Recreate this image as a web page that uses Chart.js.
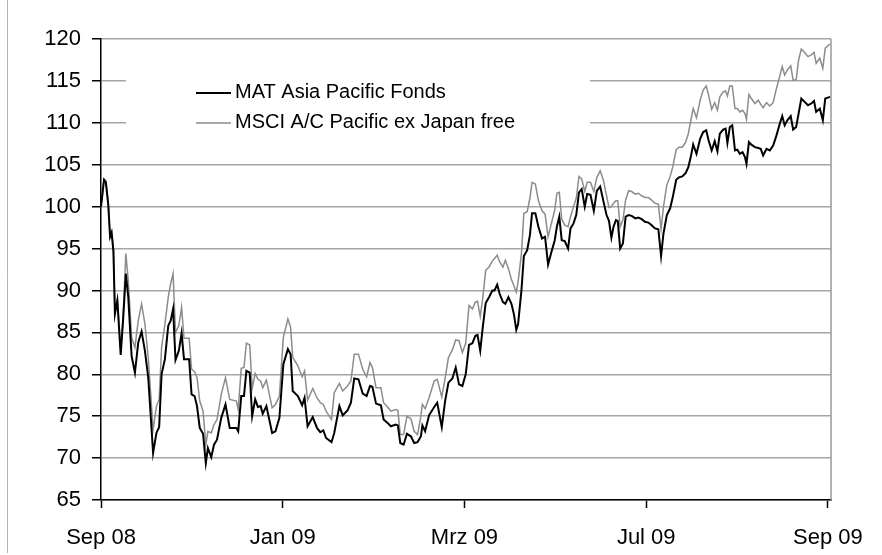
<!DOCTYPE html>
<html>
<head>
<meta charset="utf-8">
<script src="https://cdn.jsdelivr.net/npm/chart.js@4.4.1/dist/chart.umd.min.js"></script>
<style>
html,body{margin:0;padding:0;background:#fff;}
#wrap{position:relative;width:882px;height:555px;}
</style>
</head>
<body>
<div id="wrap"><canvas id="c" width="882" height="555"></canvas></div>
<script>
// Tick labels on the category-like x axis (equally spaced)
const tickPositions = [0, 60, 120, 180, 240];
const tickLabels = ['Sep 08', 'Jan 09', 'Mrz 09', 'Jul 09', 'Sep 09'];
const seriesNames = ['MAT Asia Pacific Fonds', 'MSCI A/C Pacific ex Japan free'];

// Observation positions along the x axis
const pos = [
0, 1.0, 1.6, 2.4, 3.0, 3.5, 4.1, 4.6, 5.4, 6.5,
7.3, 8.2, 9.0, 10.1, 11.2, 12.3, 13.4, 14.5, 15.6, 17.2,
18.3, 19.2, 20.0, 21.1, 22.2, 23.0, 23.8, 24.6, 25.7, 26.6,
27.4, 29.1, 29.9, 30.9, 31.7, 32.6, 33.7, 34.6, 35.3, 36.4,
37.3, 38.3, 39.7, 41.1, 42.5, 44.7, 45.3, 46.3, 47.2, 48.0,
49.1, 49.9, 50.9, 51.8, 52.7, 53.4, 54.6, 56.5, 57.6, 58.9,
60.2, 61.7, 62.6, 63.3, 65.0, 66.4, 67.2, 68.2, 69.9, 71.3,
72.4, 73.4, 74.3, 76.1, 77.0, 78.7, 79.8, 81.4, 82.5, 83.6,
85.0, 86.4, 87.7, 88.8, 89.6, 90.8, 92.4, 93.3, 94.6, 95.7,
97.3, 98.0, 98.8, 99.9, 101.0, 102.3, 103.4, 104.5, 105.6, 106.1,
107.0, 108.3, 110.0, 111.0, 112.5, 113.6, 114.7, 116.0, 117.1, 118.2,
119.3, 120.4, 121.5, 122.6, 123.6, 124.3, 125.2, 126.0, 127.0, 128.1,
129.2, 129.9, 130.8, 131.6, 132.7, 133.5, 134.5, 135.5, 136.3, 137.1,
137.7, 138.8, 139.6, 140.7, 141.6, 142.3, 143.4, 144.4, 145.6, 146.6,
147.6, 148.7, 149.8, 150.5, 151.3, 152.1, 153.1, 154.2, 155.0, 156.0,
156.9, 157.8, 158.7, 159.7, 160.5, 161.6, 162.7, 163.7, 164.8, 165.9,
166.9, 167.7, 168.5, 169.2, 170.0, 170.6, 171.4, 172.3, 173.2, 174.2,
175.2, 176.4, 177.4, 178.5, 179.6, 180.7, 181.7, 182.9, 184.0, 184.9,
185.7, 186.8, 187.9, 188.8, 189.9, 190.8, 191.9, 193.0, 193.9, 194.8,
195.5, 196.6, 197.8, 198.8, 199.8, 200.6, 201.6, 202.6, 203.5, 204.3,
205.4, 206.2, 206.8, 207.6, 208.4, 209.3, 210.1, 210.9, 211.8, 212.6,
213.1, 213.9, 214.7, 215.9, 217.0, 217.8, 218.6, 219.7, 220.8, 221.9,
223.0, 224.1, 224.9, 225.7, 226.6, 227.7, 228.5, 229.5, 230.3, 231.2,
232.3, 233.4, 234.5, 235.4, 236.1, 237.3, 238.3, 239.1, 240.7
];

// MAT Asia Pacific Fonds (indexed)
const matValues = [
100.0, 103.2, 102.9, 100.2, 96.4, 96.9, 94.7, 87.2, 88.8, 82.3,
86.5, 92.0, 89.2, 82.2, 80.2, 83.8, 85.1, 82.8, 79.6, 70.6,
73.0, 73.7, 80.0, 81.8, 85.8, 86.4, 87.8, 81.7, 82.8, 84.9,
81.8, 81.8, 77.6, 77.4, 76.2, 73.6, 72.9, 69.4, 71.2, 70.1,
71.6, 72.2, 74.8, 76.4, 73.6, 73.6, 73.2, 77.4, 77.4, 80.4,
80.2, 75.0, 77.0, 76.1, 76.2, 75.3, 76.2, 73.0, 73.2, 74.8,
81.2, 83.0, 82.4, 78.0, 77.4, 76.3, 77.2, 73.8, 74.9, 73.6,
73.1, 73.3, 72.4, 71.9, 73.0, 76.2, 75.1, 75.7, 76.6, 79.5,
79.4, 77.7, 77.4, 78.6, 78.5, 76.5, 76.3, 74.6, 74.2, 73.8,
74.0, 73.9, 71.8, 71.6, 72.9, 72.6, 71.8, 71.9, 72.6, 73.9,
73.2, 75.1, 76.1, 76.6, 73.7, 76.8, 79.0, 79.5, 80.8, 78.8,
78.6, 80.0, 83.5, 83.7, 84.6, 84.7, 82.8, 85.5, 88.5, 89.2,
90.0, 90.0, 90.7, 89.6, 88.6, 88.4, 89.2, 88.4, 87.2, 85.3,
86.0, 90.0, 94.1, 94.8, 96.6, 99.2, 99.2, 97.6, 96.2, 96.4,
93.1, 94.6, 96.0, 97.6, 98.8, 96.0, 95.9, 95.0, 97.4, 98.0,
99.0, 101.7, 102.1, 100.0, 101.5, 101.4, 99.5, 101.9, 102.4, 100.6,
99.0, 98.3, 96.3, 97.6, 98.4, 98.3, 95.0, 95.6, 98.8, 99.0,
98.9, 98.6, 98.7, 98.5, 98.2, 98.1, 97.8, 97.4, 97.3, 94.1,
96.8, 99.0, 99.8, 101.2, 103.2, 103.5, 103.6, 104.0, 104.7, 106.1,
107.4, 106.3, 108.1, 108.9, 109.1, 107.9, 106.7, 107.8, 106.6, 108.7,
109.2, 109.3, 107.6, 109.5, 109.7, 106.7, 106.8, 106.3, 106.5, 105.9,
105.1, 107.7, 107.4, 107.1, 107.0, 106.9, 106.1, 106.9, 106.7, 107.3,
108.5, 109.9, 110.8, 109.7, 110.3, 110.8, 109.2, 109.5, 111.1, 112.9,
112.5, 112.1, 112.3, 112.6, 111.3, 111.7, 110.3, 112.9, 113.1
];

// MSCI A/C Pacific ex Japan free (indexed)
const msciValues = [
100.0, 103.3, 103.1, 100.5, 96.5, 97.0, 94.9, 87.4, 88.9, 83.0,
86.9, 94.4, 91.2, 84.4, 83.2, 86.4, 88.4, 86.0, 82.0, 73.4,
76.2, 77.0, 83.2, 86.0, 89.2, 90.8, 92.0, 85.0, 85.8, 88.0,
84.3, 84.3, 80.6, 80.3, 79.6, 76.8, 75.6, 71.6, 73.2, 73.0,
74.0, 74.6, 77.6, 79.6, 77.0, 76.8, 75.8, 80.7, 80.8, 83.7,
83.5, 78.3, 80.1, 79.4, 79.2, 78.4, 79.3, 76.0, 76.4, 77.4,
84.4, 86.6, 85.6, 82.0, 81.0, 79.7, 80.4, 76.9, 78.3, 77.2,
76.6, 76.4, 75.6, 74.6, 77.8, 78.9, 78.0, 78.6, 79.2, 82.4,
82.4, 80.6, 79.7, 81.4, 80.8, 78.4, 78.4, 76.6, 76.1, 75.6,
75.8, 75.7, 72.8, 72.8, 75.0, 74.7, 73.2, 72.8, 75.0, 76.4,
75.9, 77.2, 79.2, 79.4, 77.3, 79.5, 82.0, 82.9, 84.1, 84.0,
82.6, 83.7, 88.2, 87.8, 88.6, 88.7, 86.9, 89.0, 92.4, 92.8,
93.5, 93.8, 94.2, 93.4, 92.8, 93.6, 92.6, 91.3, 90.6, 89.8,
91.0, 94.4, 99.2, 99.4, 101.0, 102.9, 102.7, 100.7, 99.5, 99.1,
96.4, 98.0, 99.6, 101.6, 101.7, 98.5, 97.8, 97.6, 98.8, 100.0,
101.0, 103.6, 103.3, 101.8, 102.9, 102.9, 101.8, 103.5, 104.3, 103.1,
101.3, 99.9, 100.0, 100.4, 100.7, 100.7, 97.6, 98.4, 100.8, 101.9,
101.8, 101.5, 101.6, 101.3, 101.1, 101.1, 100.8, 100.4, 100.3, 97.3,
100.0, 102.6, 103.6, 104.8, 106.8, 107.1, 107.1, 107.7, 108.7, 110.4,
111.7, 110.6, 112.7, 113.9, 114.4, 113.3, 111.6, 112.4, 111.5, 113.1,
113.7, 113.8, 113.2, 114.4, 114.4, 111.7, 111.7, 111.3, 111.5, 111.1,
110.4, 113.4, 112.9, 112.3, 112.7, 112.2, 111.8, 112.4, 112.0, 112.4,
114.1, 115.6, 116.7, 115.7, 116.3, 116.8, 115.1, 115.1, 117.5, 118.8,
118.4, 117.9, 118.1, 118.4, 117.1, 117.7, 116.5, 118.9, 119.4
];

const yMin = 65, yMax = 120, yStep = 5;

const FONT = '"Liberation Sans", Arial, sans-serif';

const frameLine = {
  id: 'frameLine',
  beforeDraw(chart) {
    const ctx = chart.ctx;
    ctx.save();
    ctx.fillStyle = '#fff';
    ctx.fillRect(0, 0, chart.width, chart.height);
    ctx.strokeStyle = '#b4b4b4';
    ctx.lineWidth = 1;
    ctx.beginPath();
    ctx.moveTo(7.5, 0);
    ctx.lineTo(7.5, 553);
    ctx.stroke();
    ctx.restore();
  },
  afterDatasetsDraw(chart) {
    const ctx = chart.ctx, a = chart.chartArea;
    ctx.save();
    ctx.strokeStyle = '#999';
    ctx.lineWidth = 1.5;
    ctx.beginPath();
    ctx.moveTo(a.right, a.top);
    ctx.lineTo(a.right, a.bottom);
    ctx.stroke();
    ctx.restore();
  }
};

const boxLegend = {
  id: 'boxLegend',
  beforeDatasetsDraw(chart) {
    const ctx = chart.ctx;
    ctx.save();
    ctx.fillStyle = '#fff';
    ctx.fillRect(126, 58, 464, 88);
    chart.data.datasets.forEach((ds, i) => {
      const y = 93 + i * 30;
      ctx.strokeStyle = ds.borderColor;
      ctx.lineWidth = ds.borderWidth;
      ctx.beginPath();
      ctx.moveTo(196, y);
      ctx.lineTo(231, y);
      ctx.stroke();
      ctx.fillStyle = '#000';
      ctx.font = '20px ' + FONT;
      ctx.textBaseline = 'alphabetic';
      ctx.fillText(ds.label, 235, y + 5);
    });
    ctx.restore();
  }
};

new Chart(document.getElementById('c'), {
  type: 'line',
  data: {
    datasets: [
      {
        label: seriesNames[0],
        data: pos.map((p, i) => ({ x: p, y: matValues[i] })),
        borderColor: '#000000',
        borderWidth: 2,
        pointRadius: 0,
        tension: 0,
        fill: false
      },
      {
        label: seriesNames[1],
        data: pos.map((p, i) => ({ x: p, y: msciValues[i] })),
        borderColor: '#8c8c8c',
        borderWidth: 1.5,
        pointRadius: 0,
        tension: 0,
        fill: false
      }
    ]
  },
  options: {
    responsive: false,
    animation: false,
    events: [],
    layout: { padding: { left: 0, top: 39, right: 51, bottom: 0 } },
    plugins: { legend: { display: false }, title: { display: false }, tooltip: { enabled: false } },
    scales: {
      x: {
        type: 'linear',
        min: 0,
        max: 241,
        afterBuildTicks: (s) => { s.ticks = tickPositions.map(v => ({ value: v })); },
        afterFit: (s) => { s.height = 55; },
        ticks: {
          autoSkip: false,
          maxRotation: 0,
          padding: 17,
          color: '#000',
          font: { family: FONT, size: 22 },
          callback: (v) => tickLabels[tickPositions.indexOf(v)]
        },
        grid: { drawOnChartArea: false, tickLength: 8, tickColor: '#000', tickWidth: 1.5 },
        border: { color: '#000', width: 1.5 }
      },
      y: {
        min: yMin,
        max: yMax,
        afterBuildTicks: (s) => {
          const t = [];
          for (let v = yMin; v <= yMax; v += yStep) t.push({ value: v });
          s.ticks = t;
        },
        afterFit: (s) => { s.width = 101; },
        ticks: {
          padding: 11,
          color: '#000',
          font: { family: FONT, size: 22 }
        },
        grid: { color: '#a6a6a6', lineWidth: 1.5, tickLength: 9, tickColor: '#000', tickWidth: 1.5 },
        border: { color: '#000', width: 1.5 }
      }
    }
  },
  plugins: [frameLine, boxLegend]
});
</script>
</body>
</html>
